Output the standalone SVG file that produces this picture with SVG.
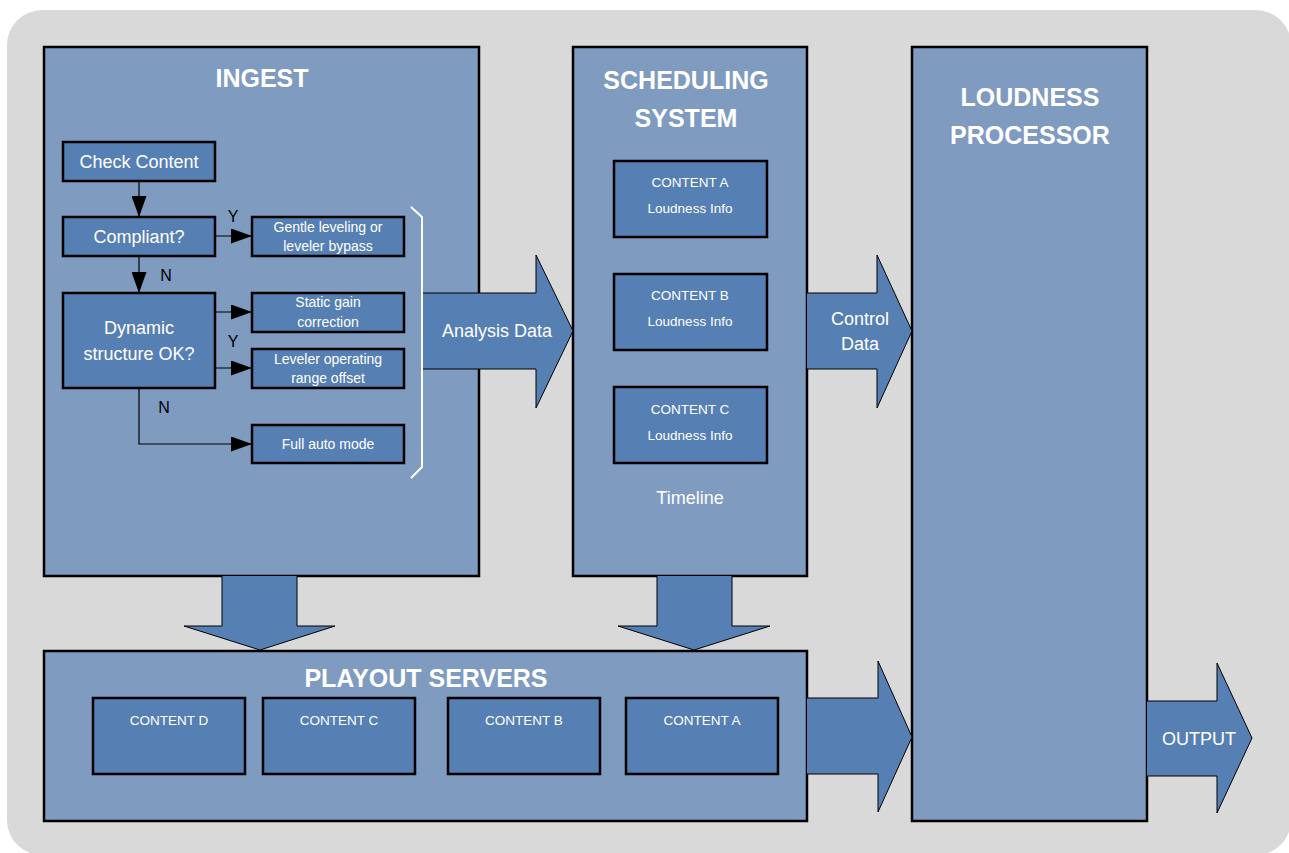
<svg xmlns="http://www.w3.org/2000/svg" width="1289" height="853" viewBox="0 0 1289 853">
  <defs>
    <style>
      .panel { fill: #7f9bc0; stroke: #000; stroke-width: 2.5; }
      .node { fill: #567fb3; stroke: #000; stroke-width: 2.5; }
      .bigarrow { fill: #567fb3; stroke: #000; stroke-width: 1; }
      .wire { fill: none; stroke: #000; stroke-width: 1.2; }
      .title { font-family: "Liberation Sans", Arial, sans-serif; font-weight: bold; font-size: 25px; fill: #fff; text-anchor: middle; }
      .lbl { font-family: "Liberation Sans", Arial, sans-serif; font-size: 18px; fill: #fff; text-anchor: middle; }
      .small { font-family: "Liberation Sans", Arial, sans-serif; font-size: 13.5px; fill: #fff; text-anchor: middle; }
      .step { font-family: "Liberation Sans", Arial, sans-serif; font-size: 14px; fill: #fff; text-anchor: middle; }
      .yn { font-family: "Liberation Sans", Arial, sans-serif; font-size: 16px; fill: #000; text-anchor: middle; }
    </style>
    <marker id="tri" viewBox="0 0 21 15" refX="21" refY="7.5" markerWidth="21" markerHeight="15" markerUnits="userSpaceOnUse" orient="auto">
      <path d="M0,0 L21,7.5 L0,15 Z" fill="#000"/>
    </marker>
  </defs>

  <!-- backdrop -->
  <rect x="7" y="10" width="1284" height="845" rx="35" fill="#d9d9d9"/>

  <!-- panels -->
  <g id="ingest">
    <rect class="panel" x="44" y="47" width="435" height="529"/>
    <text class="title" x="262" y="87">INGEST</text>
  </g>
  <g id="scheduling">
    <rect class="panel" x="573" y="47" width="234" height="529"/>
    <text class="title" x="686" y="89">SCHEDULING</text>
    <text class="title" x="686" y="127">SYSTEM</text>
    <text class="lbl" x="690" y="504">Timeline</text>
  </g>
  <g id="loudness">
    <rect class="panel" x="912" y="47" width="235" height="774"/>
    <text class="title" x="1030" y="106">LOUDNESS</text>
    <text class="title" x="1030" y="144">PROCESSOR</text>
  </g>
  <g id="playout">
    <rect class="panel" x="44" y="651" width="763" height="170"/>
    <text class="title" x="426" y="687">PLAYOUT SERVERS</text>
  </g>

  <!-- ingest flow nodes -->
  <g id="check-content">
    <rect class="node" x="63" y="142" width="152" height="39"/>
    <text class="lbl" x="139" y="168">Check Content</text>
  </g>
  <g id="compliant">
    <rect class="node" x="63" y="217" width="152" height="39"/>
    <text class="lbl" x="139" y="243">Compliant?</text>
  </g>
  <g id="dynamic">
    <rect class="node" x="63" y="293" width="152" height="95"/>
    <text class="lbl" x="139" y="334">Dynamic</text>
    <text class="lbl" x="139" y="360">structure OK?</text>
  </g>
  <g id="gentle">
    <rect class="node" x="252" y="217" width="152" height="39"/>
    <text class="step" x="328" y="232">Gentle leveling or</text>
    <text class="step" x="328" y="251">leveler bypass</text>
  </g>
  <g id="static-gain">
    <rect class="node" x="252" y="293" width="152" height="39"/>
    <text class="step" x="328" y="307">Static gain</text>
    <text class="step" x="328" y="327">correction</text>
  </g>
  <g id="leveler-offset">
    <rect class="node" x="252" y="349" width="152" height="39"/>
    <text class="step" x="328" y="364">Leveler operating</text>
    <text class="step" x="328" y="383">range offset</text>
  </g>
  <g id="full-auto">
    <rect class="node" x="252" y="425" width="152" height="38"/>
    <text class="step" x="328" y="449">Full auto mode</text>
  </g>

  <!-- scheduling entries -->
  <g id="sched-a">
    <rect class="node" x="614" y="161" width="153" height="76"/>
    <text class="small" x="690" y="187">CONTENT A</text>
    <text class="small" x="690" y="213">Loudness Info</text>
  </g>
  <g id="sched-b">
    <rect class="node" x="614" y="274" width="153" height="76"/>
    <text class="small" x="690" y="300">CONTENT B</text>
    <text class="small" x="690" y="326">Loudness Info</text>
  </g>
  <g id="sched-c">
    <rect class="node" x="614" y="387" width="153" height="76"/>
    <text class="small" x="690" y="414">CONTENT C</text>
    <text class="small" x="690" y="440">Loudness Info</text>
  </g>

  <!-- playout entries -->
  <g id="play-d">
    <rect class="node" x="93" y="698" width="152" height="76"/>
    <text class="small" x="169" y="725">CONTENT D</text>
  </g>
  <g id="play-c">
    <rect class="node" x="263" y="698" width="152" height="76"/>
    <text class="small" x="339" y="725">CONTENT C</text>
  </g>
  <g id="play-b">
    <rect class="node" x="448" y="698" width="152" height="76"/>
    <text class="small" x="524" y="725">CONTENT B</text>
  </g>
  <g id="play-a">
    <rect class="node" x="626" y="698" width="152" height="76"/>
    <text class="small" x="702" y="725">CONTENT A</text>
  </g>

  <!-- connectors -->
  <g id="connectors">
    <!-- decision flow -->
    <line class="wire" x1="139" y1="181" x2="139" y2="217" marker-end="url(#tri)"/>
    <line class="wire" x1="215" y1="236" x2="252" y2="236" marker-end="url(#tri)"/>
    <line class="wire" x1="139" y1="256" x2="139" y2="293" marker-end="url(#tri)"/>
    <line class="wire" x1="215" y1="312" x2="252" y2="312" marker-end="url(#tri)"/>
    <line class="wire" x1="215" y1="368" x2="252" y2="368" marker-end="url(#tri)"/>
    <polyline class="wire" points="139,388 139,444 252,444" marker-end="url(#tri)"/>
    <text class="yn" x="233" y="222">Y</text>
    <text class="yn" x="166" y="281">N</text>
    <text class="yn" x="233" y="347">Y</text>
    <text class="yn" x="164" y="413">N</text>

    <!-- bracket gathering the outcomes -->
    <polyline points="411,207 422,217 422,467 411,478" fill="none" stroke="#fff" stroke-width="2"/>

    <!-- block arrows -->
    <path class="bigarrow" d="M423,293 H536 V255 L573,331 L536,408 V369 H423"/>
    <text class="lbl" x="497" y="337">Analysis Data</text>

    <path class="bigarrow" d="M807,293 H877 V255 L912,331 L877,408 V369 H807"/>
    <text class="lbl" x="860" y="325">Control</text>
    <text class="lbl" x="860" y="350">Data</text>

    <path class="bigarrow" d="M222,576 V626 H184 L260,650 L335,626 H297 V576"/>
    <path class="bigarrow" d="M657,576 V626 H618 L694,650 L770,626 H732 V576"/>

    <path class="bigarrow" d="M807,698 H878 V661 L912,737 L878,812 V774 H807"/>

    <path class="bigarrow" d="M1147,701 H1217 V663 L1252,738 L1217,813 V776 H1147"/>
    <text class="lbl" x="1199" y="745">OUTPUT</text>
  </g>
</svg>
